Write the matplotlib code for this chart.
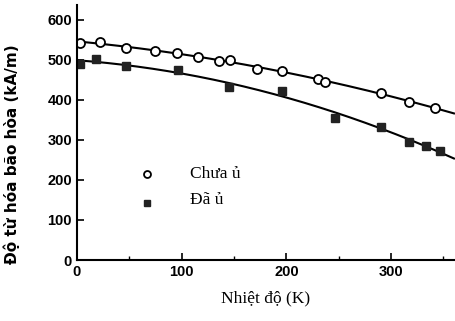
import numpy as np
import matplotlib.pyplot as plt

# Chua u (open circles)
t_chua = [3, 22, 47, 75, 96, 116, 136, 146, 172, 196, 230, 237, 290, 317, 342]
m_chua = [542, 545, 530, 522, 517, 507, 497, 500, 477, 472, 452, 445, 417, 395, 380]

# Da u (filled squares)
t_da = [3, 18, 47, 97, 145, 196, 246, 290, 317, 333, 347]
m_da = [490, 502, 485, 475, 432, 422, 355, 333, 295, 285, 273]

xticks = [0, 100, 200, 300]
yticks = [0, 100, 200, 300, 400, 500, 600]

fig = plt.figure(figsize=(4.55, 3.21), dpi=100)
ax = fig.add_axes([0.169, 0.19, 0.831, 0.795])

# smooth trend lines fitted to the points
tt = np.linspace(0, 360, 200)
p1 = np.polyfit(t_chua, m_chua, 2)
p2 = np.polyfit(t_da, m_da, 2)
ax.plot(tt, np.polyval(p1, tt), color='black', lw=1.5)
ax.plot(tt, np.polyval(p2, tt), color='black', lw=1.5)

ax.plot(t_chua, m_chua, 'o', mfc='white', mec='black', mew=1.3, ms=6.5, ls='none')
ax.plot(t_da, m_da, 's', color='#222222', ms=5.5, ls='none')

# legend drawn as marks and text
ax.plot([67], [215], 'o', mfc='white', mec='black', mew=1.3, ms=5)
ax.plot([67], [143], 's', color='#222222', ms=4.5)
ax.text(108, 215, 'Chưa ủ', family='Liberation Serif', fontsize=12.5, va='center')
ax.text(108, 150, 'Đã ủ', family='Liberation Serif', fontsize=12.5, va='center')

ax.set_xlim(0, 361)
ax.set_ylim(0, 637)
ax.set_xticks(xticks)
ax.set_yticks(yticks)
ax.set_xticks([50, 150, 250, 350], minor=True)
ax.tick_params(direction='in', length=5, width=1.2, labelsize=10.5)
ax.tick_params(which='minor', direction='in', length=3, width=1)
for lab in ax.get_xticklabels() + ax.get_yticklabels():
    lab.set_fontweight('bold')
    lab.set_family('Liberation Sans')
ax.spines['top'].set_visible(False)
ax.spines['right'].set_visible(False)
ax.spines['left'].set_linewidth(1.5)
ax.spines['bottom'].set_linewidth(1.5)

ax.set_xlabel('Nhiệt độ (K)', family='Liberation Serif', fontsize=12.5, labelpad=8)
ax.set_ylabel('Độ từ hóa bão hòa (kA/m)', family='DejaVu Sans',
              fontweight='bold', fontsize=11)
ax.yaxis.set_label_coords(-0.15, 0.415)

fig.savefig('out.png', dpi=100)
